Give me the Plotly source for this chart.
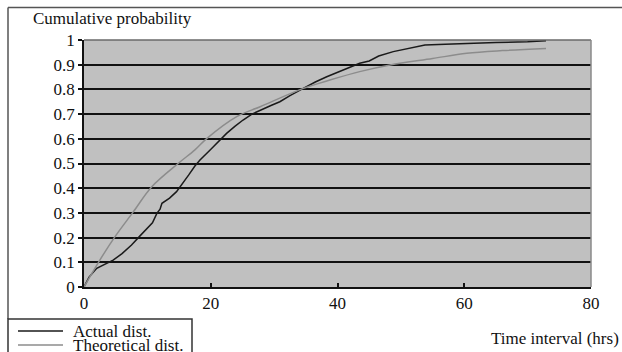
import plotly.graph_objects as go

# ---- data ----
actual_x = [0, 0.8, 2.0, 3.2, 4.6, 6.0, 7.5, 8.8, 9.8, 10.8, 11.5, 12.0, 12.3, 13.5, 14.6,
            15.5, 16.5, 17.5, 18.3, 19.9, 21.0, 22.5, 23.8, 25.1, 26.5, 28.3, 29.5, 30.9,
            32.5, 34.6, 36.5, 38.3, 40.5, 43.5, 45.0, 46.5, 48.8, 50.5, 52.0, 53.8, 57.0,
            60.4, 65.0, 70.0, 72.9]
actual_y = [0, 0.04, 0.076, 0.092, 0.109, 0.135, 0.17, 0.206, 0.235, 0.26, 0.298, 0.315,
            0.339, 0.36, 0.386, 0.42, 0.453, 0.49, 0.514, 0.555, 0.585, 0.622, 0.65, 0.676,
            0.70, 0.723, 0.735, 0.750, 0.775, 0.804, 0.83, 0.851, 0.875, 0.906, 0.915, 0.935,
            0.953, 0.962, 0.97, 0.980, 0.983, 0.987, 0.99, 0.993, 0.997]

theo_x = [0, 2.5, 4.9, 7.8, 10.7, 14.9, 17.5, 19.4, 24.1, 27.8, 34.6, 38.8, 43.5, 48.3,
          55.0, 60.4, 66.0, 72.9]
theo_y = [0, 0.109, 0.204, 0.305, 0.406, 0.501, 0.555, 0.602, 0.690, 0.730, 0.804, 0.838,
          0.872, 0.899, 0.925, 0.946, 0.957, 0.966]

x_ticks = [0, 20, 40, 60, 80]
y_ticks = [0, 0.1, 0.2, 0.3, 0.4, 0.5, 0.6, 0.7, 0.8, 0.9, 1]
y_tick_text = ["0", "0.1", "0.2", "0.3", "0.4", "0.5", "0.6", "0.7", "0.8", "0.9", "1"]

series_names = ["Actual dist.", "Theoretical dist."]
series_colors = ["#1a1a1a", "#8c8c8c"]

# ---- layout geometry (pixels) ----
W, H = 622, 352
L, R, T, B = 84, 591, 40, 287
FONT = "Times New Roman"
FS = 17


def px(x):
    return (x - L) / (R - L)


def py(y):
    return (B - y) / (B - T)


fig = go.Figure()
fig.add_trace(go.Scatter(x=actual_x, y=actual_y, mode="lines", name=series_names[0],
                         line=dict(color=series_colors[0], width=1.5), showlegend=False))
fig.add_trace(go.Scatter(x=theo_x, y=theo_y, mode="lines", name=series_names[1],
                         line=dict(color=series_colors[1], width=1.5, shape="spline"),
                         showlegend=False))

fig.update_layout(
    width=W, height=H,
    margin=dict(l=L, r=W - R, t=T, b=H - B, autoexpand=False),
    paper_bgcolor="white",
    plot_bgcolor="#c0c0c0",
    font=dict(family=FONT, size=FS, color="#111"),
    xaxis=dict(range=[0, 80], tickvals=x_ticks, ticks="inside", ticklen=4, tickwidth=1.5,
               tickcolor="#111", showgrid=False, zeroline=False, showline=True,
               linecolor="#111", linewidth=1.5, fixedrange=True,
               tickfont=dict(family=FONT, size=FS)),
    yaxis=dict(range=[0, 1], tickvals=y_ticks, ticktext=y_tick_text, ticks="outside",
               ticklen=4, tickwidth=1.5, tickcolor="#111", showgrid=True,
               gridcolor="#111", gridwidth=1.5, zeroline=False, showline=True,
               linecolor="#111", linewidth=1.5, fixedrange=True,
               tickfont=dict(family=FONT, size=FS)),
)

shapes = []
# plot-area top/right border (gray)
shapes.append(dict(type="line", xref="paper", yref="paper", x0=0, x1=1, y0=1, y1=1,
                   line=dict(color="#6a6a6a", width=1.5)))
shapes.append(dict(type="line", xref="paper", yref="paper", x0=1, x1=1, y0=0, y1=1,
                   line=dict(color="#8a8a8a", width=1.5)))
# outer chart frame (top and left)
shapes.append(dict(type="line", xref="paper", yref="paper", x0=px(8), x1=px(W + 5),
                   y0=py(7.5), y1=py(7.5), line=dict(color="#555", width=1.5)))
shapes.append(dict(type="line", xref="paper", yref="paper", x0=px(8), x1=px(8),
                   y0=py(7.5), y1=py(319), line=dict(color="#555", width=1.5)))
# legend box
shapes.append(dict(type="rect", xref="paper", yref="paper", x0=px(8), x1=px(192),
                   y0=py(319), y1=py(H + 10), line=dict(color="#333", width=1.5)))
# legend samples
legend_rows = [331, 345]
for name, color, yrow in zip(series_names, series_colors, legend_rows):
    shapes.append(dict(type="line", xref="paper", yref="paper", x0=px(18), x1=px(63),
                       y0=py(yrow), y1=py(yrow), line=dict(color=color, width=1.5)))
fig.update_layout(shapes=shapes)

annotations = [
    dict(text="Cumulative probability", xref="paper", yref="paper", x=px(31), y=py(18),
         xanchor="left", yanchor="middle", showarrow=False,
         font=dict(family=FONT, size=FS)),
    dict(text="Time interval (hrs)", xref="paper", yref="paper", x=px(621), y=py(338),
         xanchor="right", yanchor="middle", showarrow=False,
         font=dict(family=FONT, size=FS)),
]
for name, yrow in zip(series_names, legend_rows):
    annotations.append(dict(text=name, xref="paper", yref="paper", x=px(71), y=py(yrow),
                            xanchor="left", yanchor="middle", showarrow=False,
                            font=dict(family=FONT, size=FS)))
fig.update_layout(annotations=annotations)

fig.write_html("out.html")
